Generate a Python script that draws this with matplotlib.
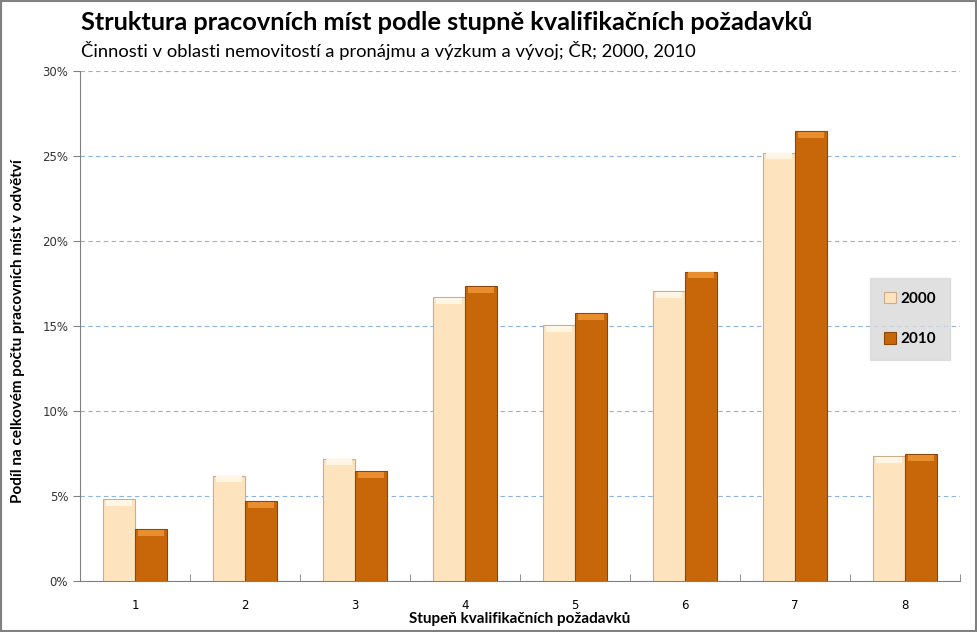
import numpy as np
import matplotlib.pyplot as plt
from matplotlib.patches import Rectangle
from matplotlib.ticker import FuncFormatter

# data (share of jobs, %)
categories = ['1', '2', '3', '4', '5', '6', '7', '8']
share_2000 = [4.8, 6.2, 7.2, 16.7, 15.05, 17.05, 25.2, 7.35]
share_2010 = [3.05, 4.7, 6.45, 17.35, 15.75, 18.2, 26.45, 7.47]
series_labels = ['2000', '2010']

plt.rcParams['font.family'] = ['Lato', 'DejaVu Sans']

fig = plt.figure(figsize=(9.77, 6.32), dpi=100)
ax = fig.add_axes([80 / 977, 1 - 581 / 632, 880 / 977, 510 / 632])

x = np.arange(len(categories))
w = 0.29
light, light_edge = '#FDE4BE', '#C9AE8C'
dark, dark_edge = '#C8670A', '#8A4708'

# bars, with a small lighter strip on top as a hint of the bevel
b1 = ax.bar(x - w / 2, share_2000, w, color=light, edgecolor=light_edge, linewidth=0.8, zorder=3)
b2 = ax.bar(x + w / 2, share_2010, w, color=dark, edgecolor=dark_edge, linewidth=0.8, zorder=3)
ax.bar(x - w / 2, [0.35] * len(x), w * 0.8, bottom=np.array(share_2000) - 0.4,
       color='#FFF6E6', linewidth=0, zorder=4)
ax.bar(x + w / 2, [0.35] * len(x), w * 0.8, bottom=np.array(share_2010) - 0.4,
       color='#E88E2E', linewidth=0, zorder=4)

ax.set_xlim(-0.5, len(categories) - 0.5)
ax.set_ylim(0, 30)
ax.set_yticks(np.arange(0, 31, 5))
ax.yaxis.set_major_formatter(FuncFormatter(lambda v, p: f'{v:.0f}%'))
ax.set_xticks(x)
ax.set_xticklabels(categories)
ax.set_xticks(np.arange(-0.5, len(categories)), minor=True)
ax.tick_params(axis='x', which='major', length=0, pad=13)
ax.tick_params(axis='x', which='minor', length=5, color='#808080', direction='in')
ax.tick_params(axis='y', length=5, color='#808080', labelcolor='#333333')
for lab in ax.get_xticklabels() + ax.get_yticklabels():
    lab.set_fontfamily('DejaVu Sans')
    lab.set_fontsize(8.5)

ax.grid(axis='y', color='#8DB3E2', linestyle=(0, (4, 3)), linewidth=0.8, zorder=0)
for s in ['top', 'right']:
    ax.spines[s].set_visible(False)
for s in ['left', 'bottom']:
    ax.spines[s].set_color('#808080')

ax.set_xlabel('Stupeň kvalifikačních požadavků', fontsize=11, fontweight='bold')
ax.xaxis.set_label_coords(0.5, -(612 - 581) / 510)
ax.set_ylabel('Podíl na celkovém počtu pracovních míst v odvětví', fontsize=11,
              fontweight='bold')
ax.yaxis.set_label_coords(-(80 - 25) / 880, 0.49)

fig.text(81 / 977, 1 - 23 / 632, 'Struktura pracovních míst podle stupně kvalifikačních požadavků',
         fontsize=18.3, fontweight='bold', va='center')
fig.text(81 / 977, 1 - 51 / 632, 'Činnosti v oblasti nemovitostí a pronájmu a výzkum a vývoj; ČR; 2000, 2010',
         fontsize=13.2, va='center')

leg = ax.legend([b1, b2], series_labels, loc='upper left',
                bbox_to_anchor=(870 / 977, 1 - 278 / 632), bbox_transform=fig.transFigure,
                frameon=True, fancybox=False, borderaxespad=0,
                handlelength=0.8, handleheight=0.8, handletextpad=0.3, labelspacing=1.7,
                borderpad=0.9, prop={'weight': 'bold', 'size': 11})
leg.get_frame().set_facecolor('#D9D9D9')
leg.get_frame().set_edgecolor('#D9D9D9')

fig.patches.append(Rectangle((0.001, 0.001), 0.998, 0.998, transform=fig.transFigure,
                             fill=False, edgecolor='#808080', linewidth=1.5))

fig.savefig('out.png', dpi=100)
